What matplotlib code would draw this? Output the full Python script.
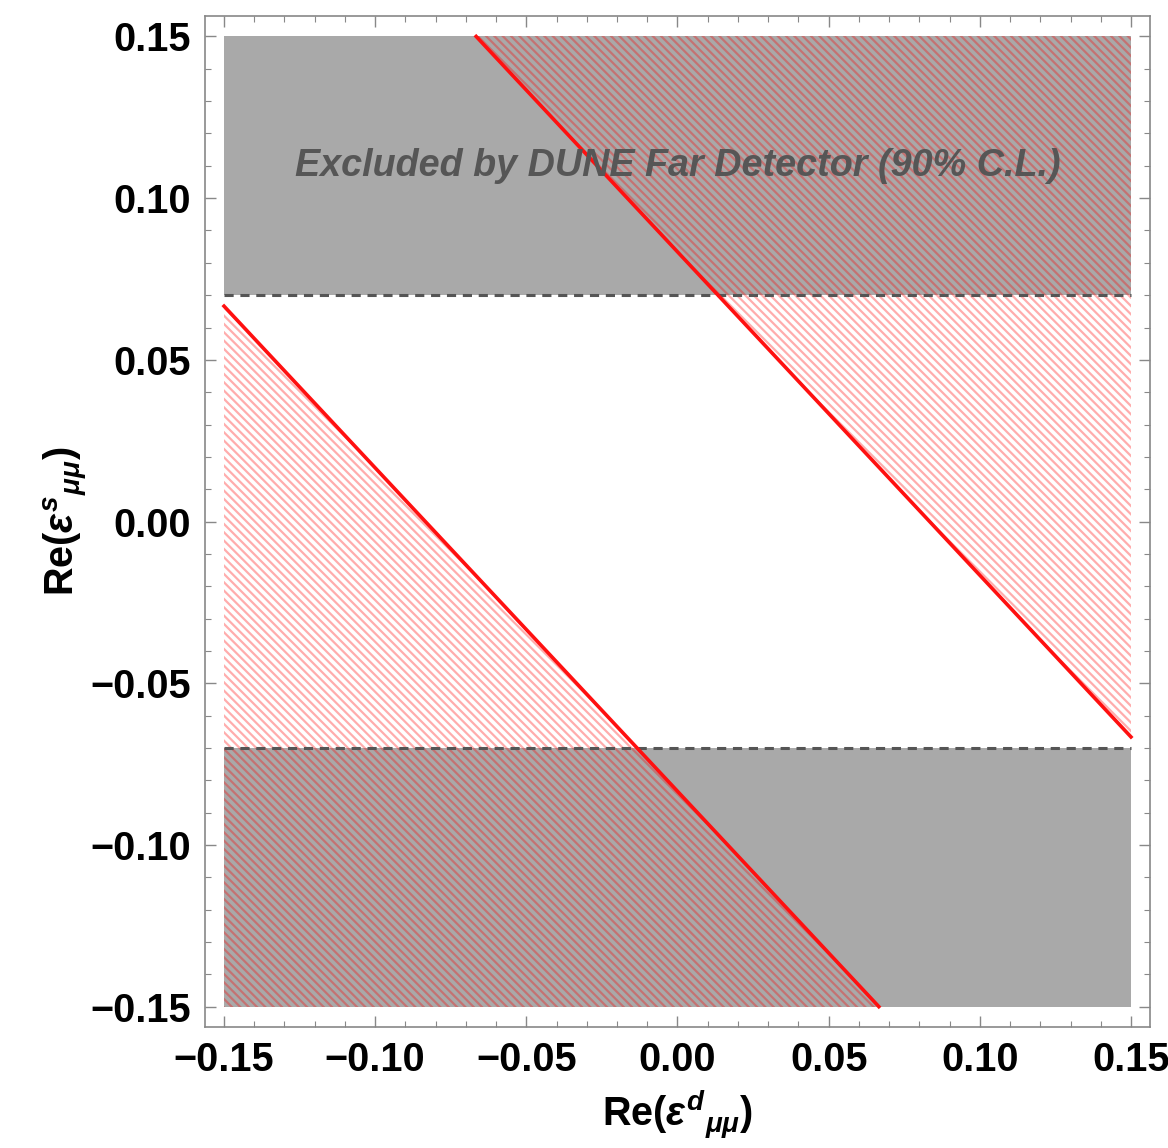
import matplotlib
matplotlib.use("Agg")
import matplotlib.pyplot as plt
from matplotlib.patches import Polygon, Rectangle
from matplotlib.ticker import MultipleLocator

plt.rcParams['font.family'] = ['Liberation Sans', 'DejaVu Sans']
plt.rcParams['font.weight'] = 'bold'
plt.rcParams['mathtext.fontset'] = 'custom'
plt.rcParams['mathtext.rm'] = 'Liberation Sans:bold'
plt.rcParams['mathtext.bf'] = 'Liberation Sans:bold'
plt.rcParams['mathtext.it'] = 'Liberation Sans:italic:bold'
plt.rcParams['hatch.linewidth'] = 1.6

# plot range and constraints
box = 0.15                 # plotted square |x|,|y| <= 0.15
far_limit = 0.07           # DUNE FD bound on |Re(eps^s)|
line_c = 0.0834            # red lines: x + y = +/- line_c
ticks = [-0.15, -0.10, -0.05, 0.00, 0.05, 0.10, 0.15]
tick_labels = ['\u22120.15', '\u22120.10', '\u22120.05', '0.00', '0.05', '0.10', '0.15']
note = 'Excluded by DUNE Far Detector (90% C.L.)'

fig = plt.figure(figsize=(11.68, 11.48), dpi=100)
ax = fig.add_axes([0.1755, 0.1054, 0.8091, 0.8806])

gray = '#a9a9a9'
# gray excluded bands
ax.add_patch(Rectangle((-box, far_limit), 2 * box, box - far_limit, facecolor=gray, edgecolor='none', zorder=1))
ax.add_patch(Rectangle((-box, -box), 2 * box, box - far_limit, facecolor=gray, edgecolor='none', zorder=1))

# hatched regions outside |x + y| < line_c
upper = [(line_c - box, box), (box, box), (box, line_c - box)]
lower = [(-box, box - line_c), (-box, -box), (box - line_c, -box)]
for pts in (upper, lower):
    ax.add_patch(Polygon(pts, closed=True, facecolor='none', edgecolor=(1, 0, 0, 0.32),
                         linewidth=0, hatch='\\\\\\\\', zorder=2))

# red lines
ax.plot([line_c - box, box], [box, line_c - box], color='#ff1010', lw=2.6, zorder=4)
ax.plot([-box, box - line_c], [box - line_c, -box], color='#ff1010', lw=2.6, zorder=4)

# dashed limits
for yv in (far_limit, -far_limit):
    ax.plot([-box, box], [yv, yv], color='#555555', lw=2.2, ls=(0, (3, 2.2)), zorder=3)

ax.text(0.0, 0.11, note, ha='center', va='center', fontsize=27.2, fontstyle='italic',
        fontweight='bold', color='#565656', zorder=5)

pad = 0.0063
ax.set_xlim(-box - pad, box + pad)
ax.set_ylim(-box - pad, box + pad)
ax.set_xticks(ticks)
ax.set_xticklabels(tick_labels)
ax.set_yticks(ticks)
ax.set_yticklabels(tick_labels)
ax.xaxis.set_minor_locator(MultipleLocator(0.01))
ax.yaxis.set_minor_locator(MultipleLocator(0.01))
ax.tick_params(which='both', direction='in', top=True, right=True, color='#888888',
               labelsize=28.5, pad=10)
ax.tick_params(which='major', length=8, width=1)
ax.tick_params(which='minor', length=4, width=0.8)
for s in ax.spines.values():
    s.set_color('#888888')
    s.set_linewidth(1.2)

ax.set_xlabel(r'$\mathrm{Re(}\epsilon^{d}{}_{\mu\mu}\mathrm{)}$', fontsize=28.5, labelpad=6)
ax.set_ylabel(r'$\mathrm{Re(}\epsilon^{s}{}_{\mu\mu}\mathrm{)}$', fontsize=28.5, labelpad=1)

fig.savefig('out.png', dpi=100)
